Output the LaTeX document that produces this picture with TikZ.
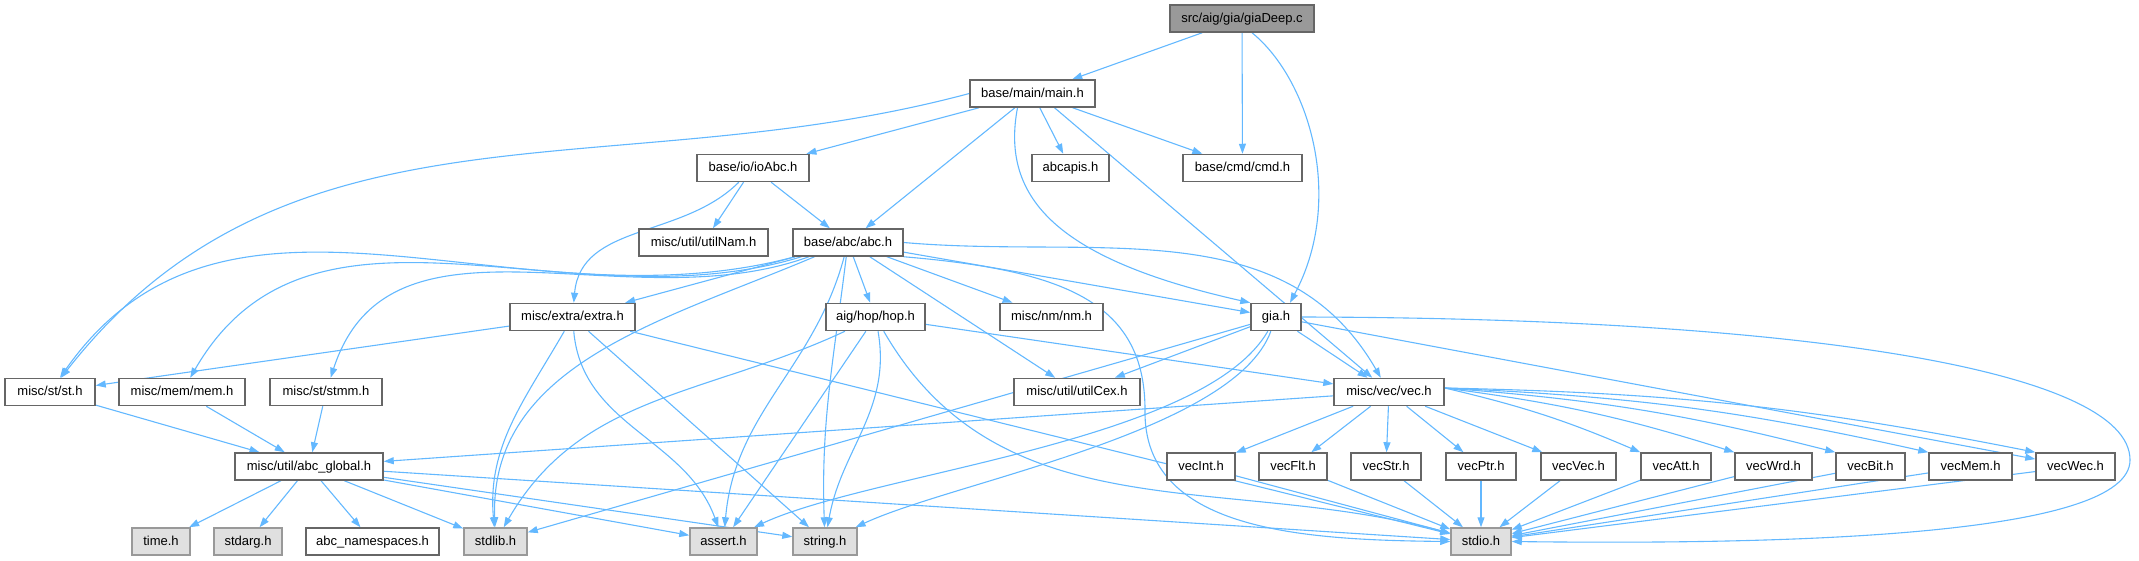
\documentclass[tikz,border=0pt]{standalone}
\usepackage{fontspec}
\setmainfont{Liberation Sans}
\usetikzlibrary{arrows.meta}
\pgfdeclarelayer{arcs}
\pgfsetlayers{arcs,main}
\definecolor{edgeblue}{HTML}{63B8FF}
\definecolor{boxgray}{HTML}{666666}
\definecolor{sysgray}{HTML}{999999}
\definecolor{sysfill}{HTML}{E0E0E0}
\tikzset{
  hdr/.style={draw=boxgray, fill=white, line width=1.5pt, inner sep=0pt,
    minimum height=27pt, text height=9.5pt, text depth=2.5pt,
    font=\fontsize{13}{15}\selectfont},
  sys/.style={hdr, draw=sysgray, fill=sysfill},
  root/.style={hdr, fill=sysgray},
  dep/.style={draw=edgeblue, line width=1.1pt, -{Triangle[length=10pt,width=7pt]}}
}
\begin{document}
\begin{tikzpicture}[x=1pt,y=-1pt]
  \useasboundingbox (0,0) rectangle (2139,560);

  % NOEUDS NIVEAU 0-2
  \node[root, minimum width=144] (giadeep) at (1242,18.5) {src/aig/gia/giaDeep.c};
  \node[hdr, minimum width=125] (main) at (1032.5,93.5) {base/main/main.h};
  \node[hdr, minimum width=112] (ioabc) at (753,168) {base/io/ioAbc.h};
  \node[hdr, minimum width=77] (abcapis) at (1070.5,168) {abcapis.h};
  \node[hdr, minimum width=119] (cmd) at (1242.5,168) {base/cmd/cmd.h};
  \node[hdr, minimum width=129] (utilnam) at (703.5,242.5) {misc/util/utilNam.h};
  \node[hdr, minimum width=110] (abc) at (848,242.5) {base/abc/abc.h};

  % NOEUDS NIVEAU 3-4
  \node[hdr, minimum width=125] (extra) at (572.5,317) {misc/extra/extra.h};
  \node[hdr, minimum width=99] (hop) at (875.5,317) {aig/hop/hop.h};
  \node[hdr, minimum width=103] (nm) at (1051.5,317) {misc/nm/nm.h};
  \node[hdr, minimum width=50] (gia) at (1276,317) {gia.h};
  \node[hdr, minimum width=90] (st) at (50,392) {misc/st/st.h};
  \node[hdr, minimum width=126] (mem) at (182,392) {misc/mem/mem.h};
  \node[hdr, minimum width=112] (stmm) at (326,392) {misc/st/stmm.h};
  \node[hdr, minimum width=126] (utilcex) at (1077,392) {misc/util/utilCex.h};
  \node[hdr, minimum width=110] (vec) at (1389,392) {misc/vec/vec.h};

  % NOEUDS NIVEAU 5
  \node[hdr, minimum width=148] (global) at (309,466.5) {misc/util/abc\_global.h};
  \node[hdr, minimum width=68] (vecint) at (1201,466.5) {vecInt.h};
  \node[hdr, minimum width=68] (vecflt) at (1293,466.5) {vecFlt.h};
  \node[hdr, minimum width=70] (vecstr) at (1386,466.5) {vecStr.h};
  \node[hdr, minimum width=70] (vecptr) at (1481,466.5) {vecPtr.h};
  \node[hdr, minimum width=75] (vecvec) at (1578.5,466.5) {vecVec.h};
  \node[hdr, minimum width=70] (vecatt) at (1676,466.5) {vecAtt.h};
  \node[hdr, minimum width=77] (vecwrd) at (1773.5,466.5) {vecWrd.h};
  \node[hdr, minimum width=69] (vecbit) at (1870.5,466.5) {vecBit.h};
  \node[hdr, minimum width=83] (vecmem) at (1970.5,466.5) {vecMem.h};
  \node[hdr, minimum width=79] (vecwec) at (2075.5,466.5) {vecWec.h};

  % EN-TETES SYSTEME
  \node[sys, minimum width=58] (time) at (161,541.5) {time.h};
  \node[sys, minimum width=68] (stdarg) at (248,541.5) {stdarg.h};
  \node[hdr, minimum width=133] (namesp) at (372.5,541.5) {abc\_namespaces.h};
  \node[sys, minimum width=63] (stdlib) at (495.5,541.5) {stdlib.h};
  \node[sys, minimum width=67] (assert) at (723.5,541.5) {assert.h};
  \node[sys, minimum width=64] (string) at (825,541.5) {string.h};
  \node[sys, minimum width=60] (stdio) at (1481,541.5) {stdio.h};

  \begin{pgfonlayer}{arcs}
  % ARCS GIADEEP
  \draw[dep] (giadeep) -- (main);
  \draw[dep] (giadeep) -- (cmd);
  \draw[dep] ([xshift=10pt]giadeep.south) .. controls (1310,80) and (1345,200) .. ([xshift=14pt]gia.north);

  % ARCS MAIN
  \draw[dep] (main) -- (ioabc);
  \draw[dep] (main) -- (abcapis);
  \draw[dep] (main) -- (cmd);
  \draw[dep] (main) -- (abc);
  \draw[dep] ([xshift=-15pt]main.south) .. controls (1000,200) and (1060,260) .. (gia.north west);
  \draw[dep] ([xshift=22pt]main.south) -- (vec);
  \draw[dep] (main.west) to[out=195,in=52] (st);

  % ARCS IOABC
  \draw[dep] (ioabc) -- (utilnam);
  \draw[dep] (ioabc) -- (abc);
  \draw[dep] (ioabc) to[out=-135,in=85] (extra);

  % ARCS ABC
  \draw[dep] (abc) -- (extra);
  \draw[dep] (abc) -- (hop);
  \draw[dep] (abc) -- (nm);
  \draw[dep] (abc) -- (utilcex);
  \draw[dep] (abc) -- (gia);
  \draw[dep] (abc.east) to[out=-5,in=120] (vec);
  \draw[dep] (abc) to[out=195,in=55] (st);
  \draw[dep] (abc) to[out=197,in=60] (mem);
  \draw[dep] (abc) to[out=200,in=72] (stmm);
  \draw[dep] (abc) to[out=203,in=92] (stdlib);
  \draw[dep] (abc) to[out=-105,in=85] (assert);
  \draw[dep] (abc) to[out=-97,in=92] (string);
  \draw[dep] (abc.south east) .. controls (1060,270) and (1145,300) .. (1145,410)
    .. controls (1143,530) and (1300,540) .. (stdio.west);

  % ARCS EXTRA
  \draw[dep] (extra) -- (st);
  \draw[dep] (extra) to[out=-120,in=95] (stdlib);
  \draw[dep] (extra) to[out=-85,in=110] (assert);
  \draw[dep] (extra) -- (string);
  \draw[dep] (extra) -- (stdio);

  % ARCS HOP
  \draw[dep] (hop) -- (vec);
  \draw[dep] (hop) to[out=205,in=60] (stdlib);
  \draw[dep] (hop) -- (assert);
  \draw[dep] (hop) to[out=-80,in=80] (string);
  \draw[dep] (hop) to[out=-60,in=165] (stdio);

  % ARCS GIA
  \draw[dep] (gia) -- (utilcex);
  \draw[dep] (gia) -- (vec);
  \draw[dep] (gia) -- (stdlib);
  \draw[dep] (gia) to[out=-120,in=25,looseness=0.6] (assert);
  \draw[dep] (gia) to[out=-110,in=25,looseness=0.6] (string);
  \draw[dep] (gia) -- (vecwec);
  \draw[dep] (gia.east) .. controls (1800,318) and (2130,370) .. (2130,460)
    .. controls (2130,535) and (1800,545) .. (stdio.east);

  % ARCS VERS ABC_GLOBAL
  \draw[dep] (st) -- (global);
  \draw[dep] (mem) -- (global);
  \draw[dep] (stmm) -- (global);
  \draw[dep] (vec) -- (global);

  % ARCS VEC
  \foreach \v in {vecint,vecflt,vecstr,vecptr,vecvec}
    \draw[dep] (vec) -- (\v);
  \foreach \v in {vecatt,vecwrd,vecbit,vecmem,vecwec}
    \draw[dep] ([yshift=4pt]vec.east) to[bend left=5] (\v.north west);
  \foreach \v in {vecint,vecflt,vecstr,vecptr,vecvec,vecatt,vecwrd,vecbit,vecmem,vecwec}
    \draw[dep] (\v) -- (stdio);

  % ARCS ABC_GLOBAL
  \foreach \s in {time,stdarg,namesp,stdlib,assert,string,stdio}
    \draw[dep] (global) -- (\s);
  \end{pgfonlayer}
\end{tikzpicture}
\end{document}
